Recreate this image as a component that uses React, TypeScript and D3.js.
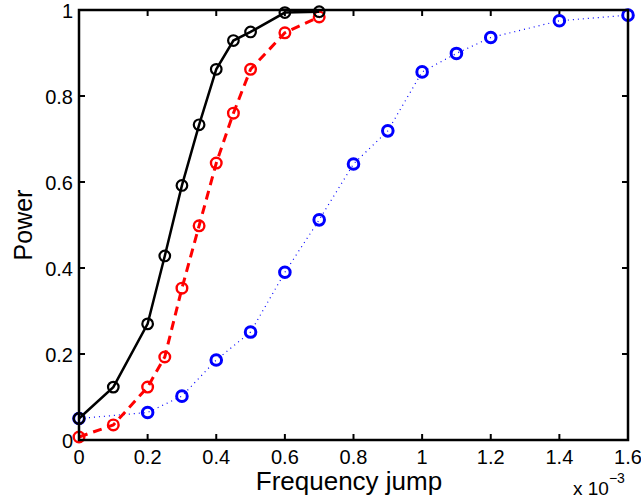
import React, {useEffect, useRef} from 'react';
import * as d3 from 'd3';

// x values are in units of 1e-3
const xTicks = [0, 0.2, 0.4, 0.6, 0.8, 1, 1.2, 1.4, 1.6];
const yTicks = [0, 0.2, 0.4, 0.6, 0.8, 1];

const blackX = [0, 0.1, 0.2, 0.25, 0.3, 0.35, 0.4, 0.45, 0.5, 0.6, 0.7];
const blackY = [0.05, 0.123, 0.27, 0.428, 0.592, 0.733, 0.862, 0.929, 0.949, 0.994, 0.996];

const redX = [0, 0.1, 0.2, 0.25, 0.3, 0.35, 0.4, 0.45, 0.5, 0.6, 0.7];
const redY = [0.007, 0.035, 0.123, 0.193, 0.353, 0.498, 0.644, 0.76, 0.862, 0.947, 0.984];

const blueX = [0, 0.2, 0.3, 0.4, 0.5, 0.6, 0.7, 0.8, 0.9, 1.0, 1.1, 1.2, 1.4, 1.6];
const blueY = [0.05, 0.064, 0.102, 0.186, 0.251, 0.39, 0.512, 0.642, 0.719, 0.856, 0.899, 0.936, 0.975, 0.988];

function App() {
    const ref = useRef<SVGSVGElement>(null);

    useEffect(() => {
        const width = 641;
        const height = 501;
        const margin = {top: 10, right: 13, bottom: 61, left: 79};

        const svg = d3.select(ref.current);
        svg.selectAll('*').remove();
        svg.attr('width', width).attr('height', height);

        const x = d3.scaleLinear().domain([0, 1.6]).range([margin.left, width - margin.right]);
        const y = d3.scaleLinear().domain([0, 1]).range([height - margin.bottom, margin.top]);

        const font = '"Liberation Sans", Arial, sans-serif';
        const x0 = x(0), x1 = x(1.6), y0 = y(0), y1 = y(1);
        const tickLen = 6;

        // ticks on all sides, pointing inward
        const ticks = svg.append('g').attr('stroke', '#000').attr('stroke-width', 2);
        xTicks.forEach(t => {
            ticks.append('line').attr('x1', x(t)).attr('x2', x(t)).attr('y1', y0).attr('y2', y0 - tickLen);
            ticks.append('line').attr('x1', x(t)).attr('x2', x(t)).attr('y1', y1).attr('y2', y1 + tickLen);
        });
        yTicks.forEach(t => {
            ticks.append('line').attr('x1', x0).attr('x2', x0 + tickLen).attr('y1', y(t)).attr('y2', y(t));
            ticks.append('line').attr('x1', x1).attr('x2', x1 - tickLen).attr('y1', y(t)).attr('y2', y(t));
        });

        const series = [
            {xs: blueX, ys: blueY, color: '#0000ff', width: 1.2, dash: '1,4', mw: 3},
            {xs: redX, ys: redY, color: '#ff0000', width: 3, dash: '9,6', mw: 2.4},
            {xs: blackX, ys: blackY, color: '#000000', width: 2.5, dash: null, mw: 2.2}
        ];

        const line = d3.line<[number, number]>().x(d => x(d[0])).y(d => y(d[1]));

        series.forEach(s => {
            const pts: [number, number][] = s.xs.map((v, i) => [v, s.ys[i]]);
            const g = svg.append('g');
            g.append('path')
                .attr('d', line(pts))
                .attr('fill', 'none')
                .attr('stroke', s.color)
                .attr('stroke-width', s.width)
                .attr('stroke-dasharray', s.dash);
            g.selectAll('circle')
                .data(pts)
                .enter()
                .append('circle')
                .attr('cx', d => x(d[0]))
                .attr('cy', d => y(d[1]))
                .attr('r', 5.3)
                .attr('fill', 'none')
                .attr('stroke', s.color)
                .attr('stroke-width', s.mw);
        });

        // frame
        svg.append('rect')
            .attr('x', x0).attr('y', y1)
            .attr('width', x1 - x0).attr('height', y0 - y1)
            .attr('fill', 'none').attr('stroke', '#000').attr('stroke-width', 2.5);

        // tick labels
        svg.append('g').selectAll('text')
            .data(xTicks).enter().append('text')
            .attr('x', d => x(d)).attr('y', y0 + 24)
            .attr('text-anchor', 'middle')
            .attr('font-family', font).attr('font-size', 20)
            .text(d => d3.format('~g')(d));

        svg.append('g').selectAll('text')
            .data(yTicks).enter().append('text')
            .attr('x', x0 - 6).attr('y', d => y(d) + 7.5)
            .attr('text-anchor', 'end')
            .attr('font-family', font).attr('font-size', 20)
            .text(d => d3.format('~g')(d));

        // axis titles
        svg.append('text')
            .attr('x', 349).attr('y', 490)
            .attr('text-anchor', 'middle')
            .attr('font-family', font).attr('font-size', 26)
            .text('Frequency jump');

        svg.append('text')
            .attr('transform', `translate(32, ${(y0 + y1) / 2}) rotate(-90)`)
            .attr('text-anchor', 'middle')
            .attr('font-family', font).attr('font-size', 25)
            .text('Power');

        const exp = svg.append('text')
            .attr('x', 573).attr('y', 495)
            .attr('font-family', font).attr('font-size', 19);
        exp.append('tspan').text('x 10');
        exp.append('tspan').attr('dy', -12).attr('font-size', 14).text('−3');
    }, []);

    return <svg ref={ref} style={{position: 'absolute', left: 0, top: 0}}/>;
}

export default App;
